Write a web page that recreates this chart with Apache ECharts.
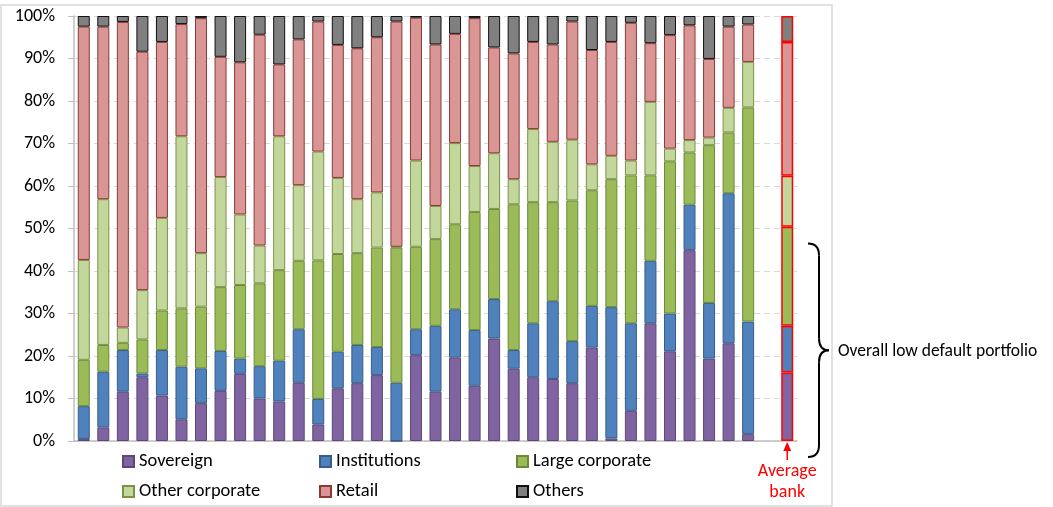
<!DOCTYPE html>
<html>
<head>
<meta charset="utf-8">
<script src="https://cdn.jsdelivr.net/npm/echarts@6/dist/echarts.min.js"></script>
<style>
  html, body { margin: 0; padding: 0; background: #fff; }
  #chart { width: 1053px; height: 507px; }
</style>
</head>
<body>
<div id="chart"></div>
<script>
// 35 banks, an empty gap slot, then the average bank (shares of exposure, %)
const banks = [];
for (let i = 1; i <= 35; i++) banks.push("Bank " + i);
banks.push("", "Average bank");

const yTicks = [0, 10, 20, 30, 40, 50, 60, 70, 80, 90, 100];

const sovereign = [0.5, 3.2, 11.6, 15.0, 10.7, 5.1, 8.9, 11.8, 15.8, 10.0, 9.3, 13.7, 3.9, 12.4, 13.6, 15.5, 0, 20.2,
  11.6, 19.6, 13.0, 24.1, 17.0, 15.0, 14.6, 13.6, 22.0, 0.6, 7.1, 27.7, 21.1, 44.9, 19.4, 23.0, 1.6, null, 16.1];
const institutions = [7.7, 13.1, 9.8, 0.9, 10.7, 12.4, 8.2, 9.4, 3.6, 7.6, 9.6, 12.6, 6.0, 8.6, 9.0, 6.6, 13.7, 6.1,
  15.5, 11.4, 13.1, 9.3, 4.4, 12.7, 18.3, 9.9, 9.8, 30.9, 20.6, 14.7, 8.9, 10.7, 13.1, 35.3, 26.5, null, 11.0];
const largeCorporate = [10.9, 6.3, 1.7, 8.0, 9.3, 13.7, 14.5, 15.0, 17.3, 19.5, 21.3, 16.1, 32.6, 23.0, 21.6, 23.4, 31.8, 19.4,
  20.4, 20.0, 27.8, 21.2, 34.3, 28.5, 23.3, 33.1, 27.2, 30.1, 34.8, 20.1, 35.8, 12.3, 37.1, 14.3, 50.4, null, 23.3];
const otherCorporate = [23.5, 34.3, 3.6, 11.6, 21.8, 40.5, 12.6, 25.9, 16.6, 8.9, 31.5, 17.8, 25.6, 17.9, 12.7, 13.0, 0.2, 20.3,
  7.8, 19.1, 10.8, 13.1, 5.9, 17.2, 14.2, 14.3, 6.1, 5.5, 3.5, 17.3, 3.0, 2.9, 1.8, 5.8, 10.7, null, 12.0];
const retail = [54.9, 40.6, 71.9, 56.1, 41.4, 26.4, 55.3, 28.3, 35.8, 49.6, 16.9, 34.3, 30.6, 31.3, 35.5, 36.5, 53.0, 33.6,
  38.0, 25.7, 34.8, 24.9, 29.6, 20.5, 22.9, 27.8, 26.9, 26.8, 32.4, 13.8, 26.7, 27.0, 18.5, 19.1, 8.8, null, 31.5];
const others = [2.5, 2.5, 1.4, 8.4, 6.1, 1.9, 0.5, 9.6, 10.9, 4.4, 11.4, 5.5, 1.3, 6.8, 7.6, 5.0, 1.3, 0.4,
  6.7, 4.2, 0.5, 7.4, 8.8, 6.1, 6.7, 1.3, 8.0, 6.1, 1.6, 6.4, 4.5, 2.2, 10.1, 2.5, 2.0, null, 6.1];

const segments = [
  { name: "Sovereign", values: sovereign, color: "#8064a2", border: "#5c4776" },
  { name: "Institutions", values: institutions, color: "#4f81bd", border: "#385d8a" },
  { name: "Large corporate", values: largeCorporate, color: "#9bbb59", border: "#6b8a38" },
  { name: "Other corporate", values: otherCorporate, color: "#c3d69b", border: "#7a9447" },
  { name: "Retail", values: retail, color: "#d99694", border: "#8c3a38" },
  { name: "Others", values: others, color: "#808080", border: "#111111" },
];

const FONT = "Carlito, Lato, 'Liberation Sans', sans-serif";
const avgIndex = banks.length - 1;

const chart = echarts.init(document.getElementById("chart"));

const series = segments.map((s) => ({
  name: s.name,
  type: "bar",
  stack: "total",
  barWidth: 12,
  itemStyle: { color: s.color, borderColor: s.border, borderWidth: 1 },
  emphasis: { disabled: true },
  data: s.values.map((v, i) =>
    i === avgIndex
      ? { value: v, itemStyle: { borderColor: "#ff0000", borderWidth: 1.5 } }
      : v
  ),
}));

// legend laid out as a 3 x 2 grid, one legend per entry
const legendCols = [122, 319, 516];
const legendRows = [452, 482];
const legends = segments.map((s, i) => ({
  left: legendCols[i % 3],
  top: legendRows[Math.floor(i / 3)],
  itemWidth: 11,
  itemHeight: 11,
  icon: "rect",
  selectedMode: false,
  padding: 0,
  textStyle: { fontFamily: FONT, fontSize: 18.5, color: "#000" },
  data: [s.name],
}));

chart.setOption({
  animation: false,
  textStyle: { fontFamily: FONT },
  grid: { left: 74, right: 256, top: 16, bottom: 66, containLabel: false },
  legend: legends,
  xAxis: {
    type: "category",
    data: banks,
    axisLine: { lineStyle: { color: "#bfbfbf", width: 1.5 } },
    axisTick: { show: false },
    axisLabel: { show: false },
  },
  yAxis: {
    type: "value",
    min: yTicks[0],
    max: yTicks[yTicks.length - 1],
    interval: yTicks[1] - yTicks[0],
    axisLine: { show: true, lineStyle: { color: "#bfbfbf", width: 1.5 } },
    axisTick: { show: true, length: 6, lineStyle: { color: "#bfbfbf" } },
    axisLabel: { formatter: "{value}%", fontSize: 18, color: "#000", margin: 19, fontFamily: FONT },
    splitLine: { lineStyle: { color: "#d9d9d9", type: [6, 4] } },
  },
  series: series,
});

// annotations: frame, "Average bank" arrow + label, brace with text
const ax = chart.convertToPixel({ xAxisIndex: 0 }, "Average bank");
const y0 = chart.convertToPixel({ yAxisIndex: 0 }, 0);
const yTop = chart.convertToPixel({ yAxisIndex: 0 }, 46.5);
const yBot = 457;
const yMid = (yTop + yBot) / 2;
const bx0 = 808, bx1 = 819, bx2 = 829;

chart.setOption({
  graphic: [
    {
      type: "rect",
      shape: { x: 1, y: 5, width: 831, height: 501 },
      style: { fill: null, stroke: "#d9d9d9", lineWidth: 1.5 },
      silent: true,
    },
    {
      type: "line",
      shape: { x1: ax, y1: y0 + 8, x2: ax, y2: y0 + 19 },
      style: { stroke: "#ff0000", lineWidth: 1.5 },
    },
    {
      type: "polygon",
      shape: { points: [[ax, y0 + 1], [ax - 4, y0 + 10], [ax + 4, y0 + 10]] },
      style: { fill: "#ff0000" },
    },
    {
      type: "text",
      x: ax, y: 482,
      style: { text: "Average\nbank", fill: "#ff0000", font: "18px " + FONT, align: "center", verticalAlign: "middle", lineHeight: 21 },
    },
    // curly brace
    { type: "bezierCurve", shape: { x1: bx0, y1: yTop, cpx1: bx1, cpy1: yTop, x2: bx1, y2: yTop + 12 }, style: { stroke: "#000", lineWidth: 2, fill: null } },
    { type: "line", shape: { x1: bx1, y1: yTop + 12, x2: bx1, y2: yMid - 12 }, style: { stroke: "#000", lineWidth: 2 } },
    { type: "bezierCurve", shape: { x1: bx1, y1: yMid - 12, cpx1: bx1, cpy1: yMid, x2: bx2, y2: yMid }, style: { stroke: "#000", lineWidth: 2, fill: null } },
    { type: "bezierCurve", shape: { x1: bx2, y1: yMid, cpx1: bx1, cpy1: yMid, x2: bx1, y2: yMid + 12 }, style: { stroke: "#000", lineWidth: 2, fill: null } },
    { type: "line", shape: { x1: bx1, y1: yMid + 12, x2: bx1, y2: yBot - 12 }, style: { stroke: "#000", lineWidth: 2 } },
    { type: "bezierCurve", shape: { x1: bx1, y1: yBot - 12, cpx1: bx1, cpy1: yBot, x2: bx0, y2: yBot }, style: { stroke: "#000", lineWidth: 2, fill: null } },
    {
      type: "text",
      x: 838, y: yMid + 1,
      style: { text: "Overall low default portfolio", fill: "#000", font: "17.5px " + FONT, verticalAlign: "middle" },
    },
  ],
});
</script>
</body>
</html>
